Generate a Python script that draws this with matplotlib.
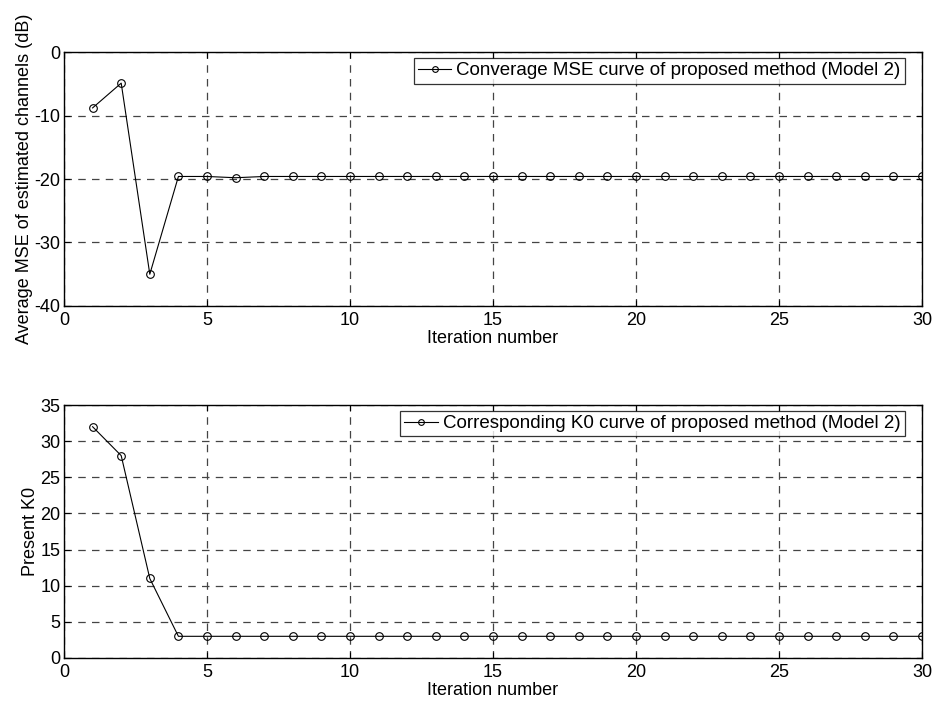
import matplotlib
matplotlib.use("Agg")
import matplotlib.pyplot as plt

plt.rcParams['font.family'] = ['Liberation Sans', 'DejaVu Sans']
plt.rcParams['axes.unicode_minus'] = False

iterations = list(range(1, 31))
mse_db = [-8.8, -4.9, -35.0, -19.6, -19.6, -19.8] + [-19.6] * 24
k0_values = [32, 28, 11, 3] + [3] * 26

mse_label = 'Converage MSE curve of proposed method (Model 2)'
k0_label = 'Corresponding K0 curve of proposed method (Model 2)'

FS = 13.5
TICK_FS = 13

fig = plt.figure(figsize=(9.37, 7.06), dpi=100)
ax1 = fig.add_axes([0.0683, 0.5666, 0.9157, 0.3597])
ax2 = fig.add_axes([0.0683, 0.068, 0.9157, 0.3583])


def style(ax):
    ax.grid(True, linestyle=(0, (6, 5)), color='#444444', linewidth=0.9)
    ax.set_axisbelow(True)
    for s in ax.spines.values():
        s.set_linewidth(1.0)
        s.set_color('black')
    ax.tick_params(direction='in', labelsize=TICK_FS, length=4, width=0.8,
                   top=True, right=True)
    ax.tick_params(axis='x', pad=4)
    ax.tick_params(axis='y', pad=2.5)
    leg = ax.legend(loc='upper right', bbox_to_anchor=(0.980, 0.976),
                    fontsize=FS, frameon=True, fancybox=False,
                    borderaxespad=0.0, handlelength=1.8, handletextpad=0.27,
                    borderpad=0.22, markerscale=0.75)
    leg.get_frame().set_edgecolor('black')
    leg.get_frame().set_linewidth(0.9)


ax1.plot(iterations, mse_db, color='black', linewidth=0.8, marker='o',
         markersize=5.5, markerfacecolor='none', markeredgewidth=0.8,
         label=mse_label)
ax1.set_xlim(0, 30)
ax1.set_ylim(-40, 0)
ax1.set_xticks(range(0, 31, 5))
ax1.set_yticks(range(-40, 1, 10))
ax1.set_xlabel('Iteration number', fontsize=TICK_FS, labelpad=1)
ax1.set_ylabel('Average MSE of estimated channels (dB)', fontsize=TICK_FS, labelpad=1)
style(ax1)

ax2.plot(iterations, k0_values, color='black', linewidth=0.8, marker='o',
         markersize=5.5, markerfacecolor='none', markeredgewidth=0.8,
         label=k0_label)
ax2.set_xlim(0, 30)
ax2.set_ylim(0, 35)
ax2.set_xticks(range(0, 31, 5))
ax2.set_yticks(range(0, 36, 5))
ax2.set_xlabel('Iteration number', fontsize=TICK_FS, labelpad=1)
ax2.set_ylabel('Present K0', fontsize=TICK_FS, labelpad=1)
style(ax2)

fig.savefig('out.png', dpi=100)
